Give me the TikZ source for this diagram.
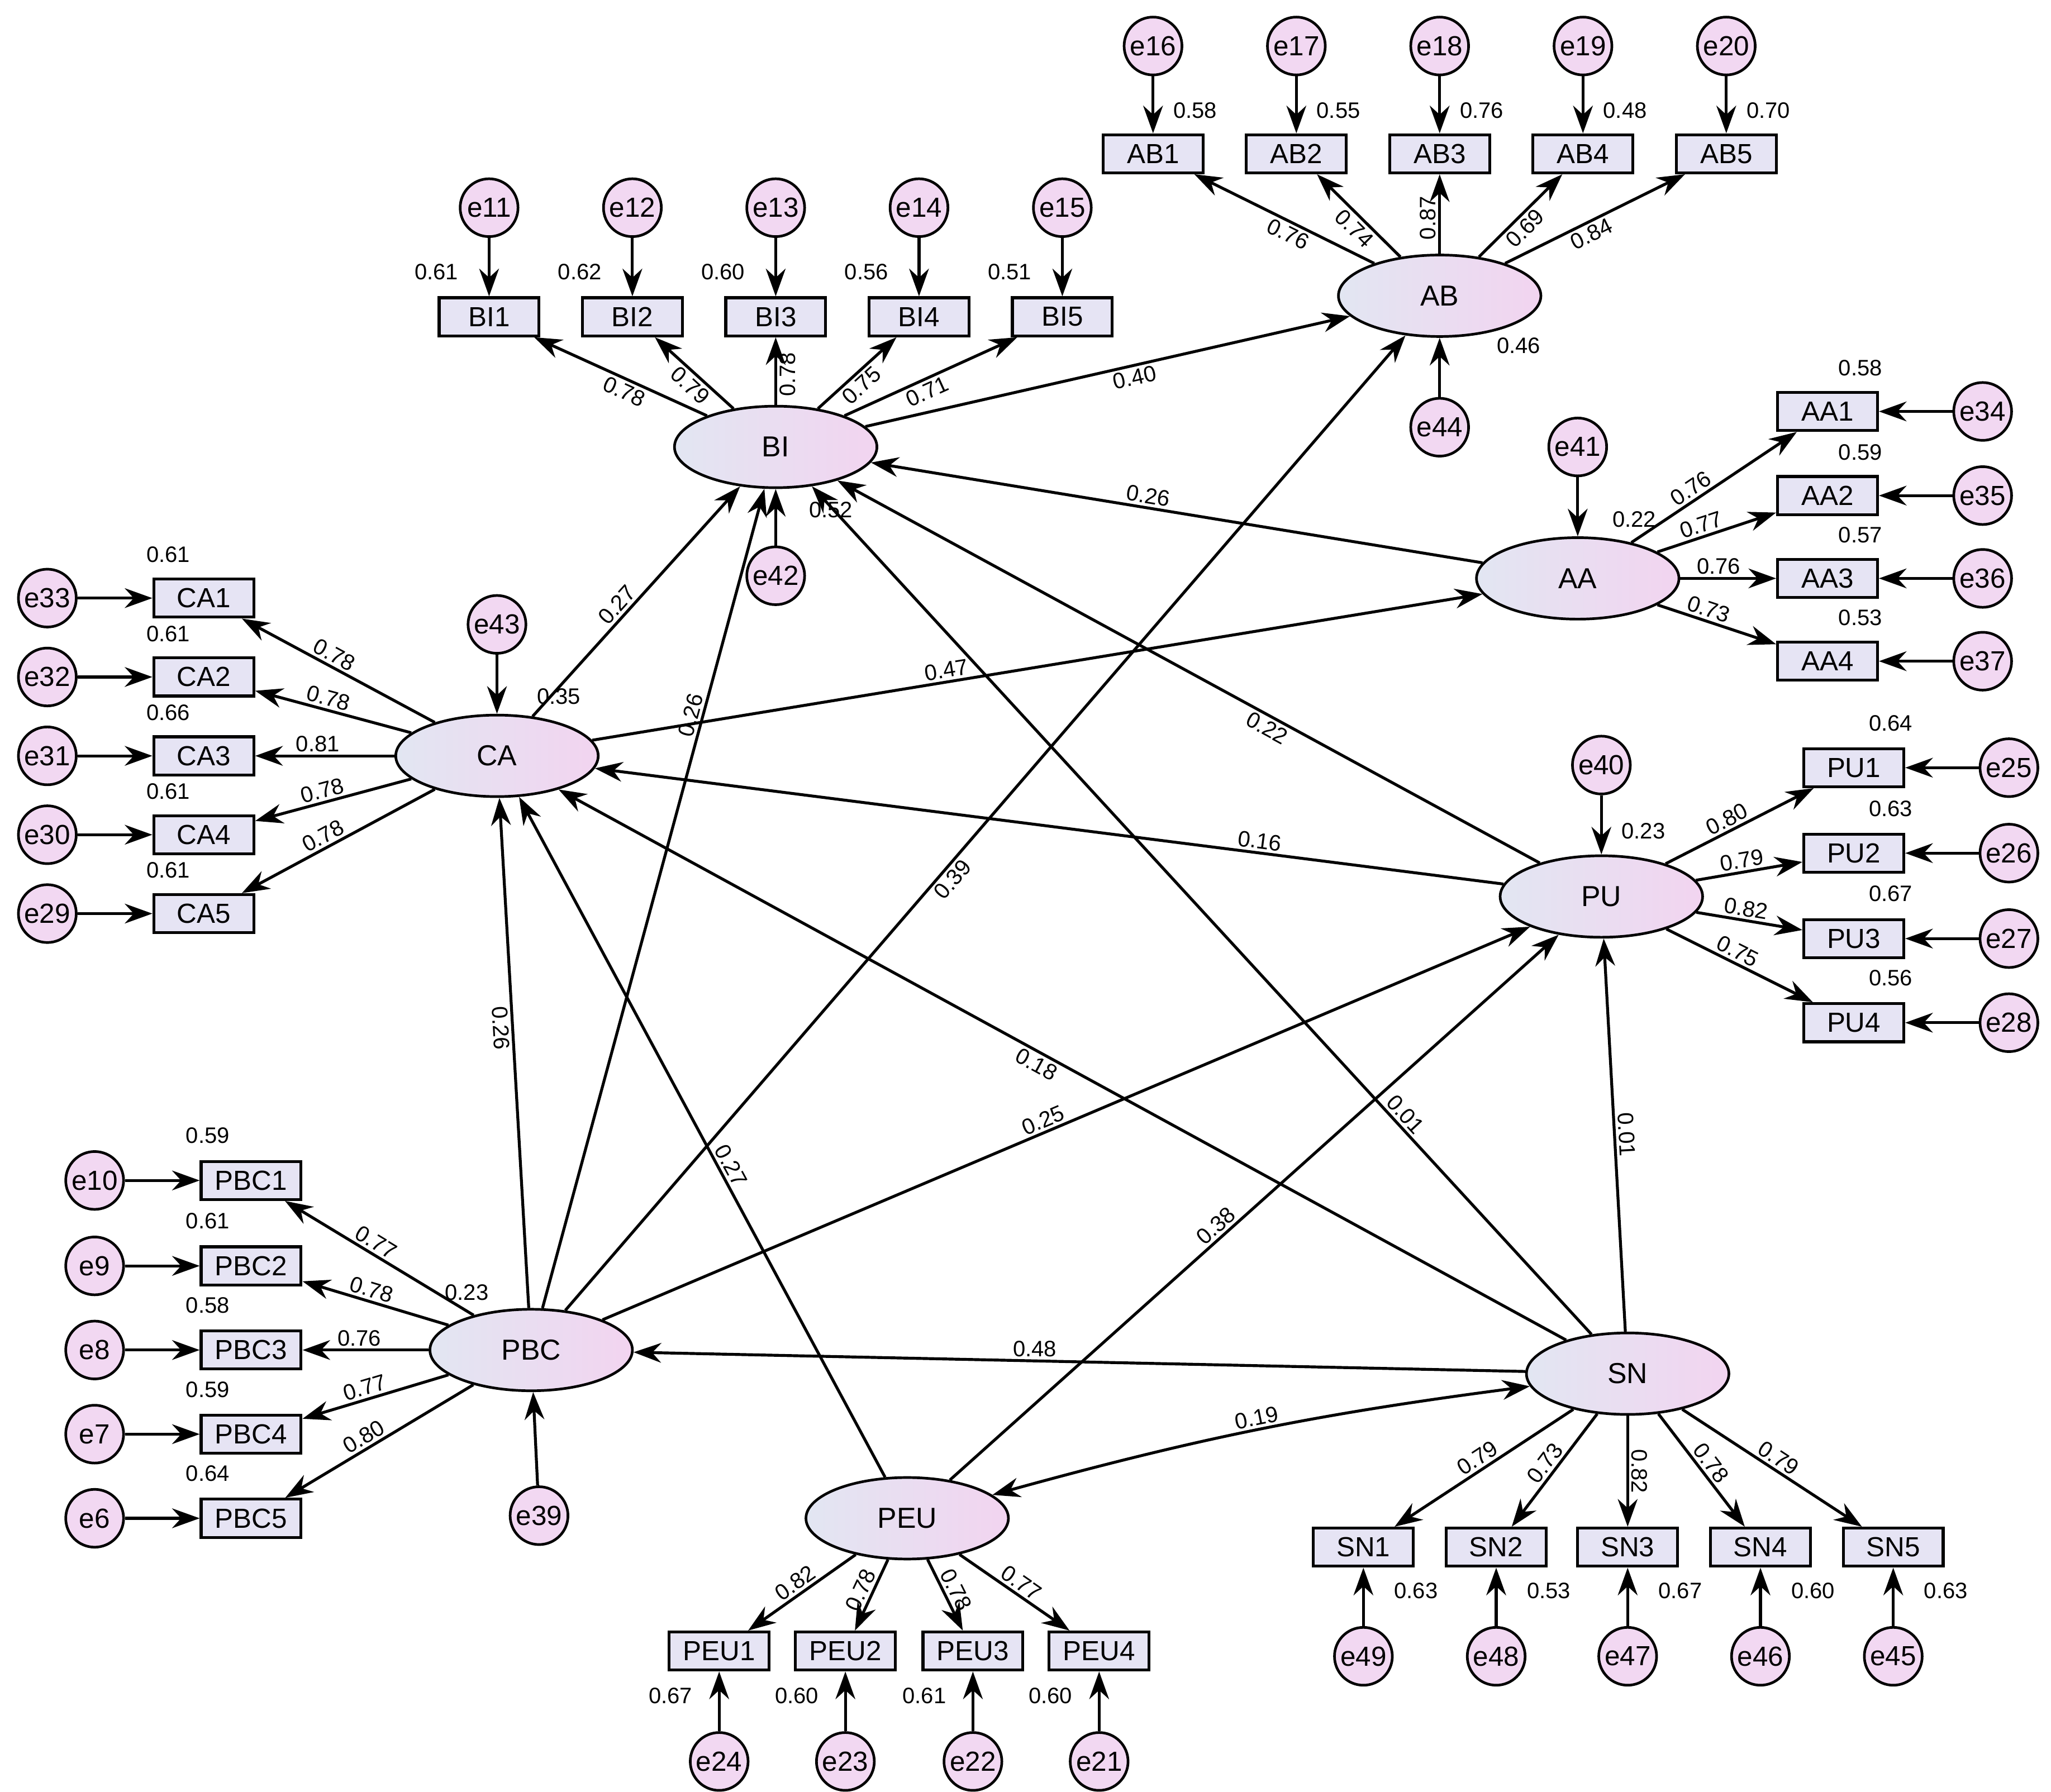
\documentclass[tikz,border=0pt]{standalone}
\usepackage{fontspec}
\setmainfont{Liberation Sans}
\usetikzlibrary{shapes.geometric,arrows.meta}
\definecolor{latL}{HTML}{E2E6F2}
\definecolor{latR}{HTML}{F2D4F0}
\definecolor{obsC}{HTML}{E6E4F4}
\definecolor{errC}{HTML}{F2D8F2}
\begin{document}
\begin{tikzpicture}[x=1pt,y=-1pt,
lat/.style={ellipse,draw,line width=2pt,minimum width=154pt,minimum height=62pt,left color=latL,right color=latR,font=\fontsize{22}{24}\selectfont},
obs/.style={rectangle,draw,line width=2.2pt,minimum width=76pt,minimum height=29pt,inner sep=0pt,fill=obsC,font=\fontsize{21}{23}\selectfont},
err/.style={circle,draw,line width=2pt,minimum size=44pt,inner sep=0pt,fill=errC,font=\fontsize{21}{23}\selectfont},
arr/.style={-{Stealth[length=21pt,width=15pt]},line width=2.2pt},
lab/.style={font=\fontsize{17}{19}\selectfont,inner sep=2pt}]
\useasboundingbox (0,0) rectangle (1560,1363);
% latent
\node[lat] (AB) at (1095,225) {AB};
\node[lat] (BI) at (590,340) {BI};
\node[lat] (AA) at (1200,440) {AA};
\node[lat] (CA) at (378,575) {CA};
\node[lat] (PU) at (1218,682) {PU};
\node[lat] (PBC) at (404,1027) {PBC};
\node[lat] (SN) at (1238,1045) {SN};
\node[lat] (PEU) at (690,1155) {PEU};
% AB
\foreach \n/\e/\x/\l/\r/\s in {1/16/877/0.76/0.58/below,2/17/986/0.74/0.55/below,3/18/1095/0.87/0.76/above,4/19/1204/0.69/0.48/below,5/20/1313/0.84/0.70/below}{
 \node[obs] (AB\n) at (\x,117) {AB\n};
 \node[err] (e\e) at (\x,35) {e\e};
 \draw[arr] (e\e) -- (AB\n);
 \node[lab] at (\x+32,84) {\r};
 \draw[arr] (AB) -- node[lab,sloped,\s,pos=0.45]{\l} (AB\n);}
% BI
\foreach \n/\e/\x/\l/\r in {1/11/372/0.78/0.61,2/12/481/0.79/0.62,3/13/590/0.78/0.60,4/14/699/0.75/0.56,5/15/808/0.71/0.51}{
 \node[obs] (BI\n) at (\x,241) {BI\n};
 \node[err] (e\e) at (\x,158) {e\e};
 \draw[arr] (e\e) -- (BI\n);
 \node[lab] at (\x-40,207) {\r};
 \draw[arr] (BI) -- node[lab,sloped,below,pos=0.45]{\l} (BI\n);}
% AA
\foreach \n/\e/\y/\l/\r in {1/34/313/0.76/0.58,2/35/377/0.77/0.59,3/36/440/0.76/0.57,4/37/503/0.73/0.53}{
 \node[obs] (AA\n) at (1390,\y) {AA\n};
 \node[err] (e\e) at (1508,\y) {e\e};
 \draw[arr] (e\e) -- (AA\n);
 \node[lab] at (1415,\y-33) {\r};
 \draw[arr] (AA) -- node[lab,sloped,above,pos=0.4]{\l} (AA\n);}
% CA
\foreach \n/\e/\y/\l/\r in {1/33/455/0.78/0.61,2/32/515/0.78/0.61,3/31/575/0.81/0.66,4/30/635/0.78/0.61,5/29/695/0.78/0.61}{
 \node[obs] (CA\n) at (155,\y) {CA\n};
 \node[err] (e\e) at (36,\y) {e\e};
 \draw[arr] (e\e) -- (CA\n);
 \node[lab] at (128,\y-33) {\r};
 \draw[arr] (CA) -- node[lab,sloped,above,pos=0.55]{\l} (CA\n);}
% PU
\foreach \n/\e/\y/\l/\r in {1/25/584/0.80/0.64,2/26/649/0.79/0.63,3/27/714/0.82/0.67,4/28/778/0.75/0.56}{
 \node[obs] (PU\n) at (1410,\y) {PU\n};
 \node[err] (e\e) at (1528,\y) {e\e};
 \draw[arr] (e\e) -- (PU\n);
 \node[lab] at (1438,\y-34) {\r};
 \draw[arr] (PU) -- node[lab,sloped,above,pos=0.45]{\l} (PU\n);}
% PBC
\foreach \n/\e/\y/\l/\r in {1/10/898/0.77/0.59,2/9/963/0.78/0.61,3/8/1027/0.76/0.58,4/7/1091/0.77/0.59,5/6/1155/0.80/0.64}{
 \node[obs] (PBC\n) at (191,\y) {PBC\n};
 \node[err] (e\e) at (72,\y) {e\e};
 \draw[arr] (e\e) -- (PBC\n);
 \node[lab] at (158,\y-34) {\r};
 \draw[arr] (PBC) -- node[lab,sloped,above,pos=0.55]{\l} (PBC\n);}
% SN
\foreach \n/\e/\x/\l/\r in {1/49/1037/0.79/0.63,2/48/1138/0.73/0.53,3/47/1238/0.82/0.67,4/46/1339/0.78/0.60,5/45/1440/0.79/0.63}{
 \node[obs] (SN\n) at (\x,1177) {SN\n};
 \node[err] (e\e) at (\x,1260) {e\e};
 \draw[arr] (e\e) -- (SN\n);
 \node[lab] at (\x+40,1210) {\r};
 \draw[arr] (SN) -- node[lab,sloped,above,pos=0.5]{\l} (SN\n);}
% PEU
\foreach \n/\e/\x/\l/\r in {1/24/547/0.82/0.67,2/23/643/0.78/0.60,3/22/740/0.78/0.61,4/21/836/0.77/0.60}{
 \node[obs] (PEU\n) at (\x,1256) {PEU\n};
 \node[err] (e\e) at (\x,1340) {e\e};
 \draw[arr] (e\e) -- (PEU\n);
 \node[lab] at (\x-37,1290) {\r};
 \draw[arr] (PEU) -- node[lab,sloped,above,pos=0.5]{\l} (PEU\n);}
% structural errors
\node[err] (e44) at (1095,325) {e44};
\node[err] (e42) at (590,438) {e42};
\node[err] (e41) at (1200,340) {e41};
\node[err] (e43) at (378,475) {e43};
\node[err] (e40) at (1218,582) {e40};
\node[err] (e39) at (410,1153) {e39};
\draw[arr] (e44) -- (AB); \node[lab] at (1155,263) {0.46};
\draw[arr] (e42) -- (BI); \node[lab] at (632,388) {0.52};
\draw[arr] (e41) -- (AA); \node[lab] at (1243,395) {0.22};
\draw[arr] (e43) -- (CA); \node[lab] at (425,530) {0.35};
\draw[arr] (e40) -- (PU); \node[lab] at (1250,632) {0.23};
\draw[arr] (e39) -- (PBC); \node[lab] at (355,983) {0.23};
% structural paths
\draw[arr] (BI) -- node[lab,sloped,below,pos=0.55]{0.40} (AB);
\draw[arr] (AA) -- node[lab,sloped,above,pos=0.55]{0.26} (BI);
\draw[arr] (CA) -- node[lab,sloped,above,pos=0.45]{0.27} (BI);
\draw[arr] (PBC) -- node[lab,sloped,above,pos=0.72]{0.26} (BI);
\draw[arr] (PU) -- node[lab,sloped,below,pos=0.38]{0.22} (BI);
\draw[arr] (SN) -- node[lab,sloped,above,pos=0.25]{0.01} (BI);
\draw[arr] (CA) -- node[lab,sloped,above,pos=0.4]{0.47} (AA);
\draw[arr] (PU) -- node[lab,sloped,above,pos=0.27]{0.16} (CA);
\draw[arr] (SN) -- node[lab,sloped,below,pos=0.52]{0.18} (CA);
\draw[arr] (PEU) -- node[lab,sloped,above,pos=0.45]{0.27} (CA);
\draw[arr] (PBC) -- node[lab,sloped,below,pos=0.55]{0.26} (CA);
\draw[arr] (PBC) -- node[lab,sloped,below,pos=0.45]{0.39} (AB);
\draw[arr] (PBC) -- node[lab,sloped,above,pos=0.48]{0.25} (PU);
\draw[arr] (PEU) -- node[lab,sloped,above,pos=0.45]{0.38} (PU);
\draw[arr] (SN) -- node[lab,sloped,above,pos=0.5]{0.01} (PU);
\draw[arr] (SN) -- node[lab,above,pos=0.55]{0.48} (PBC);
\draw[{Stealth[length=21pt,width=15pt]}-{Stealth[length=21pt,width=15pt]},line width=2.2pt] (PEU) to[bend left=4] node[lab,sloped,above,pos=0.5]{0.19} (SN);
\end{tikzpicture}
\end{document}
